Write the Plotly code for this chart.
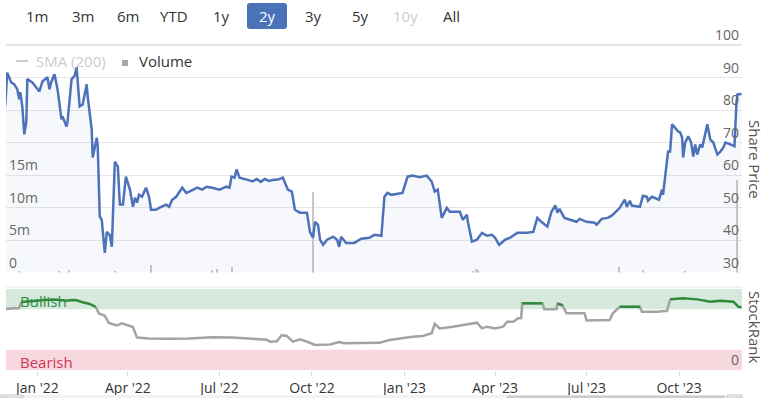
import plotly.graph_objects as go

# ---------------- data ----------------
price_dates = [
    "2021-11-30", "2021-12-02", "2021-12-06", "2021-12-09", "2021-12-12", "2021-12-14", "2021-12-15",
    "2021-12-17", "2021-12-19", "2021-12-21", "2021-12-22", "2021-12-27", "2022-01-03", "2022-01-06",
    "2022-01-11", "2022-01-13", "2022-01-15", "2022-01-18", "2022-01-21", "2022-01-25", "2022-01-26",
    "2022-01-30", "2022-01-31", "2022-02-04", "2022-02-07", "2022-02-09", "2022-02-12", "2022-02-15",
    "2022-02-19", "2022-02-20", "2022-02-24", "2022-02-25", "2022-03-01", "2022-03-02", "2022-03-04",
    "2022-03-06", "2022-03-09", "2022-03-11", "2022-03-14", "2022-03-16", "2022-03-19", "2022-03-22",
    "2022-03-24", "2022-03-27", "2022-03-30", "2022-04-03", "2022-04-06", "2022-04-08", "2022-04-10",
    "2022-04-12", "2022-04-15", "2022-04-19", "2022-04-22", "2022-04-24", "2022-04-29", "2022-05-02",
    "2022-05-09", "2022-05-12", "2022-05-15", "2022-05-19", "2022-05-25", "2022-05-29", "2022-06-01",
    "2022-06-09", "2022-06-14", "2022-06-18", "2022-06-24", "2022-07-01", "2022-07-08", "2022-07-11",
    "2022-07-13", "2022-07-16", "2022-07-18", "2022-07-21", "2022-07-29", "2022-08-03", "2022-08-07",
    "2022-08-11", "2022-08-15", "2022-08-19", "2022-08-23", "2022-08-28", "2022-09-02", "2022-09-07",
    "2022-09-11", "2022-09-14", "2022-09-19", "2022-09-26", "2022-09-29", "2022-10-02", "2022-10-04",
    "2022-10-07", "2022-10-09", "2022-10-12", "2022-10-16", "2022-10-22", "2022-10-26", "2022-10-28",
    "2022-10-30", "2022-11-04", "2022-11-12", "2022-11-19", "2022-11-27", "2022-12-02", "2022-12-09",
    "2022-12-12", "2022-12-15", "2022-12-19", "2022-12-30", "2023-01-04", "2023-01-09", "2023-01-16",
    "2023-01-23", "2023-01-28", "2023-01-31", "2023-02-03", "2023-02-07", "2023-02-12", "2023-02-15",
    "2023-02-25", "2023-02-28", "2023-03-04", "2023-03-05", "2023-03-09", "2023-03-14", "2023-03-19",
    "2023-03-24", "2023-03-29", "2023-04-01", "2023-04-05", "2023-04-11", "2023-04-16", "2023-04-23",
    "2023-05-03", "2023-05-09", "2023-05-13", "2023-05-17", "2023-05-23", "2023-05-27", "2023-05-31",
    "2023-06-02", "2023-06-04", "2023-06-09", "2023-06-21", "2023-06-24", "2023-07-01", "2023-07-09",
    "2023-07-11", "2023-07-16", "2023-07-22", "2023-07-26", "2023-07-29", "2023-08-03", "2023-08-06",
    "2023-08-08", "2023-08-10", "2023-08-13", "2023-08-15", "2023-08-23", "2023-08-26", "2023-08-30",
    "2023-08-31", "2023-09-04", "2023-09-11", "2023-09-14", "2023-09-15", "2023-09-19", "2023-09-20",
    "2023-09-22", "2023-09-24", "2023-09-26", "2023-09-30", "2023-10-02", "2023-10-04", "2023-10-05",
    "2023-10-07", "2023-10-10", "2023-10-13", "2023-10-15", "2023-10-17", "2023-10-19", "2023-10-22",
    "2023-10-24", "2023-10-27", "2023-10-29", "2023-11-01", "2023-11-04", "2023-11-08", "2023-11-11",
    "2023-11-14", "2023-11-16", "2023-11-21", "2023-11-25", "2023-11-27", "2023-11-28", "2023-12-02",
]
price_values = [
    81.2, 91.5, 88.5, 87.9, 86.4, 83.3, 85.5,
    81.1, 72.5, 76.5, 89.5, 88.5, 85.7, 88.8,
    90.1, 86.4, 88.8, 91.0, 86.4, 77.1, 78.0,
    74.9, 76.5, 89.5, 90.5, 93.1, 81.1, 81.7,
    87.9, 84.2, 74.0, 65.4, 71.5, 68.8, 47.2,
    46.2, 36.0, 42.5, 41.5, 37.9, 64.1, 62.6,
    50.9, 50.9, 59.5, 55.5, 50.2, 53.0, 51.5,
    53.9, 53.3, 56.1, 53.3, 49.3, 49.3, 49.9,
    50.9, 50.2, 52.4, 53.3, 56.1, 54.5, 54.9,
    56.1, 55.5, 56.4, 56.1, 55.5, 56.4, 56.1,
    59.5, 59.2, 61.7, 59.2, 58.5, 58.0, 58.8,
    57.9, 58.8, 58.2, 58.5, 58.6, 59.2, 55.5,
    54.9, 49.3, 48.4, 48.4, 42.5, 40.7, 45.6,
    44.7, 40.1, 38.5, 40.1, 41.0, 40.1, 37.9,
    41.0, 39.1, 39.1, 40.4, 40.7, 41.6, 41.3,
    53.3, 54.5, 53.9, 54.5, 59.5, 59.8, 59.3,
    59.8, 58.0, 54.9, 55.5, 46.8, 49.9, 48.7,
    48.7, 46.2, 47.8, 45.6, 39.5, 40.1, 42.2,
    41.3, 41.6, 40.7, 38.5, 40.1, 40.7, 42.2,
    42.2, 42.5, 46.8, 45.6, 44.1, 48.7, 50.6,
    48.4, 49.6, 46.8, 45.6, 46.5, 45.6, 45.3,
    44.7, 46.5, 46.8, 47.5, 48.4, 49.9, 51.5,
    52.4, 50.2, 52.1, 50.6, 50.2, 53.6, 53.3,
    52.1, 53.3, 52.4, 55.5, 53.9, 65.7, 67.2,
    67.2, 75.6, 74.9, 73.4, 73.1, 71.5, 65.4,
    70.0, 71.9, 70.0, 65.7, 69.4, 66.3, 69.4,
    68.5, 73.1, 75.6, 70.9, 70.0, 66.3, 67.2,
    68.5, 70.0, 69.4, 68.8, 82.3, 84.8, 84.9,
]

volume_dates = [
    "2021-12-14", "2022-01-23", "2022-02-02", "2022-03-19", "2022-04-24", "2022-06-24",
    "2022-06-29", "2022-07-14", "2022-10-02", "2023-03-10", "2023-03-13", "2023-03-15",
    "2023-08-02", "2023-08-26", "2023-10-07", "2023-11-28",
]
volume_values = [
    0.3e6, 0.3e6, 0.45e6, 0.3e6, 1.1e6, 0.45e6,
    0.6e6, 0.8e6, 12.4e6, 0.3e6, 0.6e6, 0.45e6,
    0.8e6, 0.45e6, 0.3e6, 14.2e6,
]

rank_dates = [
    "2021-11-30", "2021-12-03", "2021-12-06", "2021-12-09", "2021-12-12", "2021-12-14", "2021-12-16",
    "2021-12-27", "2022-01-08", "2022-01-18", "2022-01-30", "2022-02-04", "2022-02-09", "2022-02-14",
    "2022-02-22", "2022-02-28", "2022-03-03", "2022-03-09", "2022-03-13", "2022-03-21", "2022-03-26",
    "2022-04-06", "2022-04-10", "2022-04-22", "2022-05-12", "2022-06-01", "2022-06-24", "2022-07-14",
    "2022-07-31", "2022-08-17", "2022-08-20", "2022-08-27", "2022-09-01", "2022-09-06", "2022-09-12",
    "2022-09-19", "2022-09-26", "2022-10-04", "2022-10-19", "2022-10-28", "2022-11-02", "2022-11-17",
    "2022-12-07", "2022-12-17", "2022-12-27", "2023-01-09", "2023-01-19", "2023-01-28", "2023-01-31",
    "2023-02-05", "2023-02-18", "2023-03-04", "2023-03-14", "2023-03-19", "2023-03-24", "2023-04-01",
    "2023-04-09", "2023-04-13", "2023-04-19", "2023-04-24", "2023-04-27", "2023-04-28", "2023-05-18",
    "2023-05-20", "2023-06-01", "2023-06-02", "2023-06-07", "2023-06-11", "2023-06-29", "2023-07-01",
    "2023-07-24", "2023-07-27", "2023-08-01", "2023-08-03", "2023-08-23", "2023-08-25", "2023-09-09",
    "2023-09-19", "2023-09-22", "2023-10-05", "2023-10-19", "2023-11-01", "2023-11-11", "2023-11-24",
    "2023-11-29", "2023-12-02",
]
rank_values = [
    75.0, 76.0, 75.5, 76.5, 76.0, 76.5, 84.0,
    85.5, 86.5, 87.0, 85.5, 86.5, 86.0, 84.0,
    81.5, 78.0, 70.0, 67.0, 58.0, 55.0, 57.5,
    53.0, 40.0, 39.0, 38.5, 39.0, 40.3, 40.0,
    39.0, 37.5, 35.0, 35.5, 43.0, 42.0, 35.0,
    38.0, 35.0, 31.0, 31.5, 34.5, 33.0, 33.0,
    33.5, 37.0, 39.0, 41.0, 42.0, 45.3, 57.0,
    51.4, 53.5, 56.4, 58.4, 51.4, 53.5, 51.4,
    53.5, 59.6, 59.6, 63.8, 64.0, 82.3, 82.3,
    75.0, 75.0, 82.0, 80.0, 70.0, 70.0, 61.0,
    61.7, 70.0, 76.0, 78.0, 78.0, 72.0, 72.0,
    73.0, 87.2, 88.5, 87.2, 84.4, 85.6, 84.4,
    78.0, 77.4,
]
rank_bullish_threshold = 77

price_ticks = [30, 40, 50, 60, 70, 80, 90, 100]
volume_ticks = [0, 5e6, 10e6, 15e6]
volume_tick_labels = ["0", "5m", "10m", "15m"]
rank_ticks = [0]
rank_bands = {"Bullish": (75, 100), "Bearish": (0, 25)}
range_buttons = ["1m", "3m", "6m", "YTD", "1y", "2y", "3y", "5y", "10y", "All"]
selected_button = "2y"
disabled_button = "10y"
legend_labels = ["SMA (200)", "Volume"]
x_range = ["2021-11-30 19:00", "2023-12-02 12:00"]

# ---------------- geometry helpers (pixel -> paper) ----------------
W, H = 765, 398
ML, MR = 6, 23
PW = W - ML - MR


def px_x(px):
    return (px - ML) / PW


def px_y(py):
    return (H - py) / H


FONT = "Open Sans, Segoe UI, sans-serif"

# price panel: 30 at y=272.5px, 100 at y=45px; panel extends a bit above 100
PRICE_BOTTOM_PX, PRICE_100_PX, PRICE_TOP_PX = 272.5, 45.0, 20.0
ppu = (PRICE_BOTTOM_PX - PRICE_100_PX) / 70.0
price_top = 100 + (PRICE_100_PX - PRICE_TOP_PX) / ppu
volume_top = 35e6 * (price_top - 30) / 70.0

fig = go.Figure()

# volume bars (base axis, left)
fig.add_trace(go.Bar(
    x=volume_dates, y=volume_values, xaxis="x", yaxis="y",
    marker=dict(color="#c8c8c8", line=dict(width=0)),
    width=1.4 * 86400000, showlegend=False, hoverinfo="skip",
))

# share price area line (right axis, overlaying)
fig.add_trace(go.Scatter(
    x=price_dates, y=price_values, xaxis="x", yaxis="y2", mode="lines",
    line=dict(color="#4d72b9", width=2.5),
    fill="tozeroy", fillcolor="rgba(77,114,185,0.05)",
    showlegend=False,
))

# StockRank line, coloured by zone
n = len(rank_values)
green_y, grey_y = [], []
for i, v in enumerate(rank_values):
    g = v >= rank_bullish_threshold
    prev_grey = i > 0 and rank_values[i - 1] < rank_bullish_threshold
    next_grey = i < n - 1 and rank_values[i + 1] < rank_bullish_threshold
    green_y.append(v if g else None)
    grey_y.append(v if (not g or prev_grey or next_grey) else None)

fig.add_trace(go.Scatter(
    x=rank_dates, y=grey_y, xaxis="x2", yaxis="y3", mode="lines",
    line=dict(color="#a3a3a3", width=2.5), connectgaps=False, showlegend=False,
))
fig.add_trace(go.Scatter(
    x=rank_dates, y=green_y, xaxis="x2", yaxis="y3", mode="lines",
    line=dict(color="#2e8b3e", width=2.5), connectgaps=False, showlegend=False,
))

price_domain = [px_y(PRICE_BOTTOM_PX), px_y(PRICE_TOP_PX)]
rank_domain = [px_y(370), px_y(289)]

shapes = []
annotations = []

# StockRank bands
band_colors = {"Bullish": "#d6e9dc", "Bearish": "#f6d8de"}
band_text_colors = {"Bullish": "#2e8b3e", "Bearish": "#d0345a"}
for name, (lo, hi) in rank_bands.items():
    shapes.append(dict(type="rect", xref="paper", yref="y3", x0=0, x1=1, y0=lo, y1=hi,
                       fillcolor=band_colors[name], line=dict(width=0), layer="below"))
    annotations.append(dict(text=name, xref="paper", yref="y3", x=px_x(18), y=(lo + hi) / 2 - 2,
                            xanchor="left", yanchor="middle", showarrow=False,
                            font=dict(family=FONT, size=15, color=band_text_colors[name])))

# separator line at top of StockRank panel
shapes.append(dict(type="line", xref="paper", yref="paper", x0=0, x1=1,
                   y0=px_y(287), y1=px_y(287), line=dict(color="#e6e6e6", width=1)))

# range selector buttons
button_centers = [36.5, 82.5, 128, 174, 221.5, 267, 313, 360, 405.5, 451]
for label, cx in zip(range_buttons, button_centers):
    color = "#333333"
    if label == selected_button:
        color = "#ffffff"
        x0, x1, y0, y1, r = cx - 20, cx + 20, 3, 29, 3
        rx, ry = r / PW, r / H
        X0, X1, Y0, Y1 = px_x(x0), px_x(x1), px_y(y1), px_y(y0)
        path = (f"M{X0 + rx},{Y0} L{X1 - rx},{Y0} Q{X1},{Y0} {X1},{Y0 + ry} "
                f"L{X1},{Y1 - ry} Q{X1},{Y1} {X1 - rx},{Y1} L{X0 + rx},{Y1} "
                f"Q{X0},{Y1} {X0},{Y1 - ry} L{X0},{Y0 + ry} Q{X0},{Y0} {X0 + rx},{Y0} Z")
        shapes.append(dict(type="path", xref="paper", yref="paper", path=path,
                           fillcolor="#4a72b8", line=dict(width=0)))
    elif label == disabled_button:
        color = "#cccccc"
    annotations.append(dict(text=label, xref="paper", yref="paper", x=px_x(cx), y=px_y(16),
                            xanchor="center", yanchor="middle", showarrow=False,
                            font=dict(family=FONT, size=15, color=color)))

# separator under the range selector (top edge of price panel)
shapes.append(dict(type="line", xref="paper", yref="paper", x0=0, x1=1,
                   y0=px_y(44.5), y1=px_y(44.5), line=dict(color="#e6e6e6", width=1)))

# legend
shapes.append(dict(type="line", xref="paper", yref="paper", x0=px_x(16), x1=px_x(28),
                   y0=px_y(61), y1=px_y(61), line=dict(color="#cccccc", width=2)))
annotations.append(dict(text=legend_labels[0], xref="paper", yref="paper", x=px_x(34), y=px_y(61),
                        xanchor="left", yanchor="middle", showarrow=False,
                        font=dict(family=FONT, size=15, color="#cccccc")))
shapes.append(dict(type="rect", xref="paper", yref="paper", x0=px_x(122), x1=px_x(128),
                   y0=px_y(66), y1=px_y(60), fillcolor="#a8a8a8", line=dict(width=0)))
annotations.append(dict(text=legend_labels[1], xref="paper", yref="paper", x=px_x(137), y=px_y(61),
                        xanchor="left", yanchor="middle", showarrow=False,
                        font=dict(family=FONT, size=15, color="#333333")))

# axis titles on the right (rotated clockwise)
for text, cy in [("Share Price", 159), ("StockRank", 327)]:
    annotations.append(dict(text=text, xref="paper", yref="paper", x=px_x(755), y=px_y(cy),
                            xanchor="center", yanchor="middle", textangle=90, showarrow=False,
                            font=dict(family=FONT, size=15, color="#555555")))

# scrollbar remnants at the very bottom
shapes.append(dict(type="rect", xref="paper", yref="paper", x0=px_x(0), x1=px_x(742),
                   y0=px_y(398), y1=px_y(395), fillcolor="#f2f2f2", line=dict(width=0)))
shapes.append(dict(type="rect", xref="paper", yref="paper", x0=px_x(507), x1=px_x(725),
                   y0=px_y(398), y1=px_y(395.5), fillcolor="#cccccc", line=dict(width=0)))
shapes.append(dict(type="rect", xref="paper", yref="paper", x0=px_x(0), x1=px_x(23),
                   y0=px_y(398), y1=px_y(395), fillcolor="#e6e6e6",
                   line=dict(color="#cccccc", width=1)))
shapes.append(dict(type="rect", xref="paper", yref="paper", x0=px_x(727), x1=px_x(742),
                   y0=px_y(398), y1=px_y(395), fillcolor="#e6e6e6",
                   line=dict(color="#cccccc", width=1)))

tickfont = dict(family=FONT, size=14, color="#666666")

fig.update_layout(
    width=W, height=H,
    margin=dict(l=ML, r=MR, t=0, b=0, autoexpand=False),
    paper_bgcolor="white", plot_bgcolor="white",
    bargap=0,
    showlegend=False,
    xaxis=dict(domain=[0, 1], anchor="y", range=x_range, type="date",
               showticklabels=False, showgrid=False, zeroline=False, showline=False, ticks=""),
    yaxis=dict(domain=price_domain, anchor="x", side="left", range=[0, volume_top],
               tickvals=volume_ticks, ticktext=volume_tick_labels,
               ticklabelposition="inside top", showgrid=False, zeroline=False, ticks="",
               tickfont=tickfont),
    yaxis2=dict(overlaying="y", anchor="x", side="right", range=[30, price_top],
                tickvals=price_ticks, ticklabelposition="inside top",
                showgrid=True, gridcolor="#e6e6e6", gridwidth=1, zeroline=False, ticks="",
                tickfont=tickfont),
    xaxis2=dict(domain=[0, 1], anchor="y3", matches="x", type="date",
                dtick="M3", tick0="2022-01-01", tickformat="%b '%y",
                ticks="outside", ticklen=5, tickcolor="#d8d8d8", tickwidth=1,
                showgrid=False, zeroline=False, showline=False,
                tickfont=dict(family=FONT, size=14, color="#333333")),
    yaxis3=dict(domain=rank_domain, anchor="x2", side="right", range=[0, 100],
                tickvals=rank_ticks, ticklabelposition="inside top",
                showgrid=False, zeroline=False, ticks="", tickfont=tickfont),
    shapes=shapes,
    annotations=annotations,
)

fig.write_html(
    "out.html",
    config={"displayModeBar": False},
    post_script="document.body.style.margin='0';document.body.style.overflow='hidden';",
)
